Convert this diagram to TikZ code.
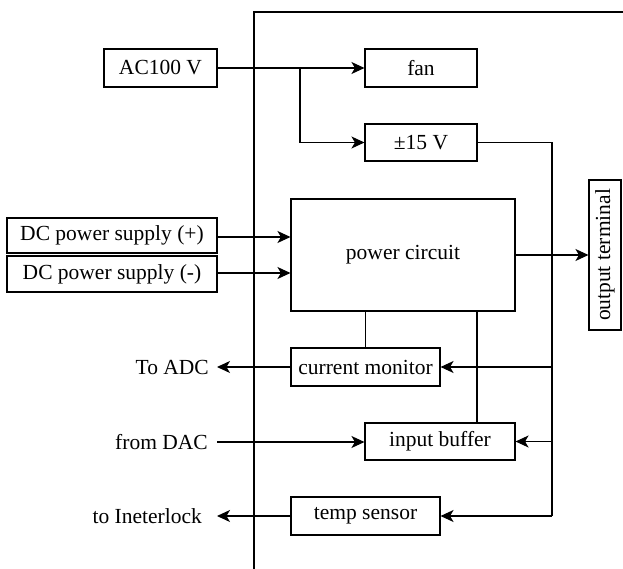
\documentclass[tikz,border=0pt]{standalone}
\usepackage{fontspec}
\setmainfont{Liberation Serif}
\usepackage{tikz}
\usetikzlibrary{arrows.meta, calc}

\tikzset{
  blk/.style={draw, line width=1.1pt, inner sep=0pt, font=\fontsize{21.5}{25}\selectfont},
  lbl/.style={inner sep=4pt, font=\fontsize{21.5}{25}\selectfont},
  wire/.style={line width=1.1pt},
  sig/.style={line width=1.1pt, -{Stealth[length=13pt, width=12pt, inset=3.5pt]}}
}

\begin{document}
\begin{tikzpicture}[x=1pt, y=-1pt]
      \useasboundingbox (0,0) rectangle (623,569);

      \def\xBus{552}
      \def\xTee{300}

      % housing
      \draw[wire] (254,569) -- (254,12) -- (623,12);

      % blocks
      \node[blk, minimum width=113pt, minimum height=38pt] (ac)    at (160.5,68)  {AC100 V};
      \node[blk, minimum width=112pt, minimum height=38pt] (fan)   at (421,68)    {fan};
      \node[blk, minimum width=112pt, minimum height=37pt] (pm)    at (421,142.5) {±15 V};
      \node[blk, minimum width=224pt, minimum height=112pt] (pwr)  at (403,255)   {power circuit};
      \node[blk, minimum width=210pt, minimum height=35pt] (dcp)   at (112,235.5) {DC power supply (+)};
      \node[blk, minimum width=210pt, minimum height=36pt] (dcm)   at (112,274)   {DC power supply (-)};
      \node[blk, minimum width=150pt, minimum height=32pt, rotate=90] (out) at (605,255) {output terminal};
      \node[blk, minimum width=149pt, minimum height=38pt] (cmon)  at (365.5,367) {current monitor};
      \node[blk, minimum width=150pt, minimum height=37pt] (ibuf)  at (440,441.5) {input buffer};
      \node[blk, minimum width=149pt, minimum height=38pt] (tsen)  at (365.5,516) {temp sensor};

      \node[lbl, anchor=east] (adc)  at (213,367)   {To ADC};
      \node[lbl, anchor=east] (dac)  at (212,442)   {from DAC};
      \node[lbl, anchor=east] (ilk)  at (206,516)   {to Ineterlock};

      % AC distribution
      \coordinate (tee) at (\xTee,68);
      \draw[sig] (ac.east) -- (fan.west);
      \draw[sig] (tee) |- (pm.west);

      % +-15 V rail
      \coordinate (busT) at (\xBus,142.5);
      \coordinate (busB) at (\xBus,516);
      \draw[wire] (pm.east) -- (busT) -- (busB);
      \draw[sig] (busB) -- (tsen.east);
      \foreach \blk in {cmon, ibuf}{
        \draw[sig] (\blk.east -| busT) -- (\blk.east);
      }

      % DC inputs and output
      \draw[sig] (dcp.east |- 0,237) -- (pwr.west |- 0,237);
      \draw[sig] (dcm.east |- 0,273) -- (pwr.west |- 0,273);
      \draw[sig] (pwr.east) -- (out.north);

      % internal links
      \draw[wire] (cmon.north) -- (cmon.north |- pwr.south);
      \draw[wire] (ibuf.north -| 477,0) -- (pwr.south -| 477,0);

      % signals out / in
      \draw[sig] (cmon.west) -- ($(adc.east)+(4,0)$);
      \draw[sig] (tsen.west) -- ($(ilk.east)+(11,0)$);
      \draw[sig] ($(dac.east)+(5,0)$) -- (ibuf.west |- dac.east);

\end{tikzpicture}
\end{document}
